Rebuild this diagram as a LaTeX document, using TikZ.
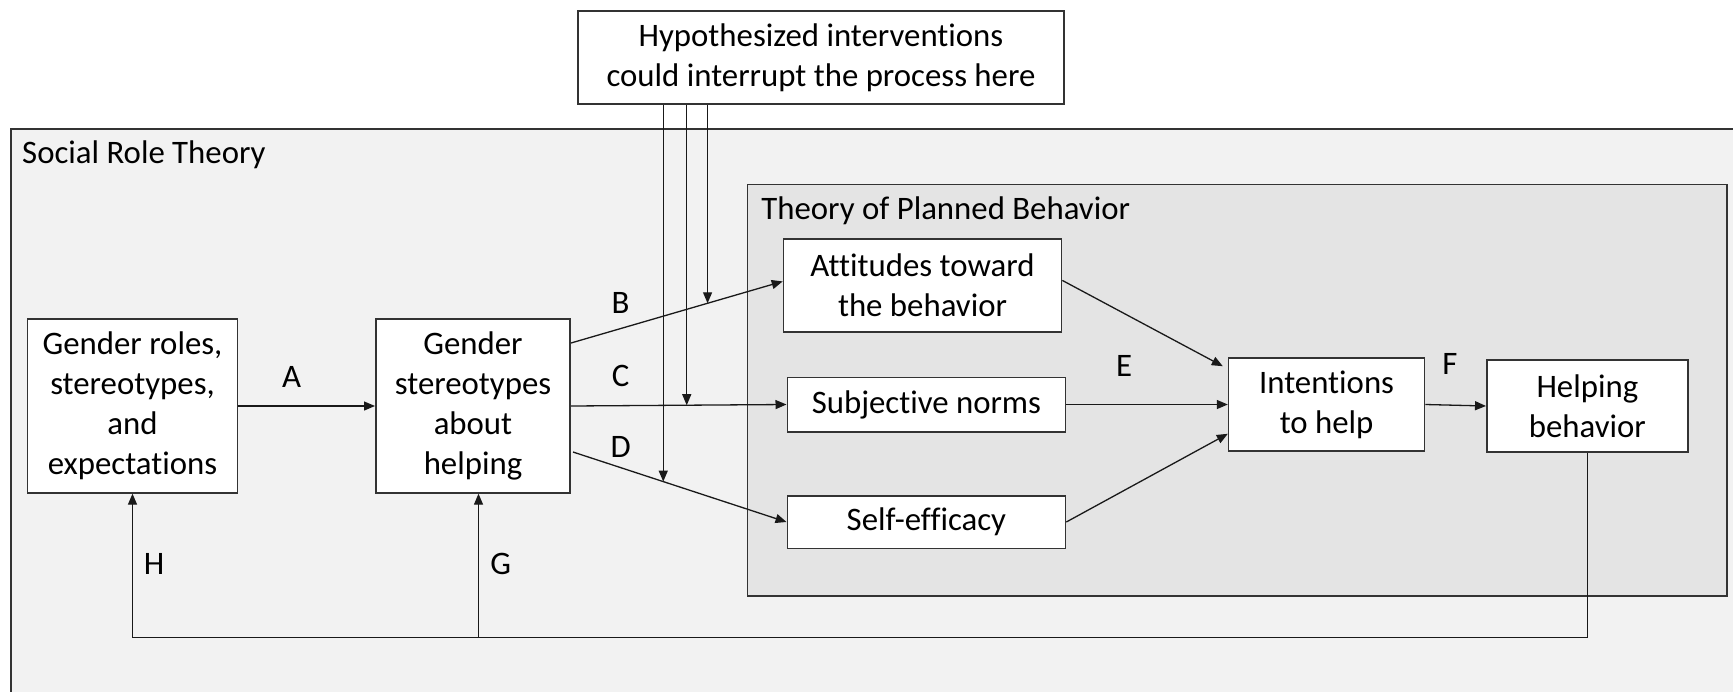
\documentclass[tikz,border=0pt]{standalone}
\usepackage{fontspec}
\setmainfont{Carlito}[Ligatures=NoCommon]
\usetikzlibrary{arrows.meta,calc}
\definecolor{srtfill}{HTML}{F2F2F2}
\definecolor{tpbfill}{HTML}{E4E4E4}
\definecolor{edge}{HTML}{333333}
\begin{document}
\begin{tikzpicture}[x=0.5pt,y=-0.5pt,
  txt/.style={font=\fontsize{16.4}{20}\selectfont},
  box/.style={txt, draw=edge, line width=0.8pt, fill=white, align=center, inner sep=0pt},
  conn/.style={line width=0.65pt, draw=black!90, -{Triangle[length=5.5pt,width=4.5pt]}},
  lbl/.style={txt, inner sep=0pt}]
\useasboundingbox (0,0) rectangle (1733,691);
\filldraw[fill=srtfill, draw=edge, line width=0.8pt] (10.7,129) rectangle (1760,710);
\filldraw[fill=tpbfill, draw=edge, line width=0.8pt] (747.3,184.4) rectangle (1727,596);
\node[lbl, anchor=west] (srt) at (21.8,154.6) {Social Role Theory};
\node[lbl, anchor=west] (tpb) at (761,211) {Theory of Planned Behavior};

\node[box, minimum width=243pt, minimum height=46.5pt] (hyp) at (821,57.5) {Hypothesized interventions\\could interrupt the process here};
\node[box, minimum width=104.85pt, minimum height=86.85pt] (gr) at (132.5,406) {Gender roles,\\stereotypes,\\and\\expectations};
\node[box, minimum width=97.2pt, minimum height=86.85pt] (st) at (473,406) {Gender\\stereotypes\\about\\helping};
\node[box, minimum width=139pt, minimum height=46.35pt] (att) at (922.5,285.4) {Attitudes toward\\the behavior};
\node[box, minimum width=139.1pt, minimum height=27.2pt] (sn) at (926.4,404.5) {Subjective norms};
\node[box, minimum width=139.1pt, minimum height=26.3pt] (se) at (926.4,522) {Self-efficacy};
\node[box, minimum width=98pt, minimum height=46.5pt] (int) at (1326.6,404.5) {Intentions\\to help};
\node[box, minimum width=100.6pt, minimum height=46pt] (hb) at (1587.4,406) {Helping\\behavior};

\draw[conn] (gr.east) -- (st.west);
\coordinate (bS) at ($(st.east)+(0,-63)$);
\coordinate (bE) at ($(att.west)+(0,-4)$);
\draw[conn] (bS) -- (bE);
\draw[conn] (st.east) -- (sn.west);
\coordinate (dS) at ($(st.east)+(2,46)$);
\draw[conn] (dS) -- (se.west);

\coordinate (eS) at ($(att.east)+(0,-5)$);
\coordinate (eE) at ($(int.north west)+(-5,9)$);
\draw[conn] (eS) -- (eE);
\draw[conn] (sn.east) -- (int.west);
\coordinate (gE) at ($(int.south west)+(0,-18)$);
\draw[conn] (se.east) -- (gE);
\draw[conn] (int.east) -- (hb.west);

\coordinate (fb) at ($(hb.south)+(0,184.5)$);
\draw[conn] (hb.south) -- (fb) -| (gr.south);
\coordinate (gB) at ($(st.south)+(5.5,0)$);
\draw[conn] (gB |- fb) -- (gB);

\coordinate (iB) at ($(bS)!0.645!(bE)$);
\coordinate (iC) at ($(st.east)!0.537!(sn.west)$);
\coordinate (iD) at ($(dS)!0.4227!(se.west)$);
\draw[conn] (hyp.south -| iB) -- (iB);
\draw[conn] (hyp.south -| iC) -- (iC);
\draw[conn] (hyp.south -| iD) -- (iD);

\node[lbl] (lA) at (291.6,376.7) {A};
\node[lbl] (lB) at (620.6,303.3) {B};
\node[lbl] (lC) at (620.6,375.7) {C};
\node[lbl] (lD) at (620.6,446.7) {D};
\node[lbl] (lE) at (1124,366) {E};
\node[lbl] (lF) at (1450,364) {F};
\node[lbl] (lG) at (500.6,564) {G};
\node[lbl] (lH) at (154,564) {H};
\end{tikzpicture}
\end{document}
